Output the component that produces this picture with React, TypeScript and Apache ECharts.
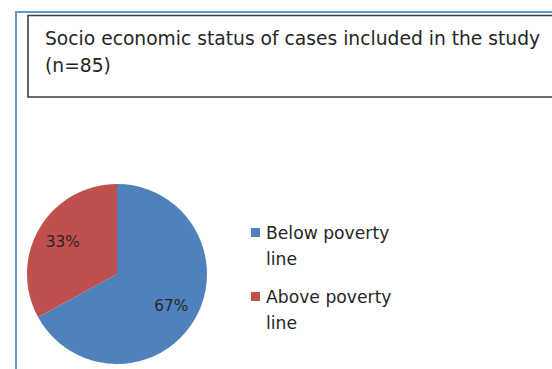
import React, { useEffect, useRef } from "react";
import * as echarts from "echarts";

const categories: string[] = ["Below poverty line", "Above poverty line"];
const percentValues: number[] = [67, 33];
const colors: string[] = ["#4F81BD", "#C0504D"];
const titleLines: string[] = [
  "Socio economic status of cases included in the study",
  "(n=85)",
];

const FONT = "'DejaVu Sans', 'Open Sans', sans-serif";

export default function App() {
  const ref = useRef<HTMLDivElement>(null);

  useEffect(() => {
    if (!ref.current) return;
    const chart = echarts.init(ref.current, undefined, { renderer: "svg" });
    const data = categories.map((name, i) => ({
      name,
      value: percentValues[i],
      itemStyle: { color: colors[i] },
    }));
    chart.setOption({
      animation: false,
      backgroundColor: "#ffffff",
      title: {
        text: titleLines.join("\n"),
        left: 45,
        top: 25,
        padding: 0,
        textStyle: {
          fontFamily: FONT,
          fontSize: 18.7,
          fontWeight: "normal",
          color: "#262626",
          lineHeight: 27,
        },
      },
      graphic: [
        {
          type: "polyline",
          shape: { points: [[16, 372], [16, 12], [560, 12]] },
          style: { stroke: "#5B9BD5", lineWidth: 2, fill: "none" },
          silent: true,
        },
        {
          type: "rect",
          shape: { x: 28, y: 15.5, width: 600, height: 81.5 },
          style: { stroke: "#3c3c3c", lineWidth: 1.6, fill: "none" },
          silent: true,
        },
      ],
      legend: {
        orient: "vertical",
        left: 251,
        top: 219.5,
        padding: 0,
        itemWidth: 9,
        itemHeight: 35,
        itemGap: 12,
        icon: "path://M0,0L9,0L9,9L0,9Z M0,35L9,35",
        data: categories,
        formatter: (name: string) => name.replace(" line", "\nline"),
        textStyle: {
          fontFamily: FONT,
          fontSize: 17.2,
          color: "#262626",
          lineHeight: 26,
          padding: [0, 0, 0, 1],
        },
      },
      series: [
        {
          type: "pie",
          center: [117, 274],
          radius: [0, 90],
          startAngle: 90,
          clockwise: true,
          data,
          label: { show: false },
          labelLine: { show: false },
          itemStyle: { borderWidth: 0 },
          silent: true,
        },
        {
          type: "pie",
          center: [117, 274],
          radius: [0, 120],
          startAngle: 90,
          clockwise: true,
          data: data.map((d) => ({ ...d, itemStyle: { color: "rgba(0,0,0,0)" } })),
          label: {
            show: true,
            position: "inside",
            formatter: "{c}%",
            fontFamily: FONT,
            fontSize: 15.3,
            color: "#262626",
          },
          labelLine: { show: false },
          itemStyle: { borderWidth: 0 },
          silent: true,
          legendHoverLink: false,
        },
      ],
    });
    return () => chart.dispose();
  }, []);

  return (
    <div
      ref={ref}
      style={{ position: "fixed", left: 0, top: 0, width: 552, height: 369 }}
    />
  );
}
